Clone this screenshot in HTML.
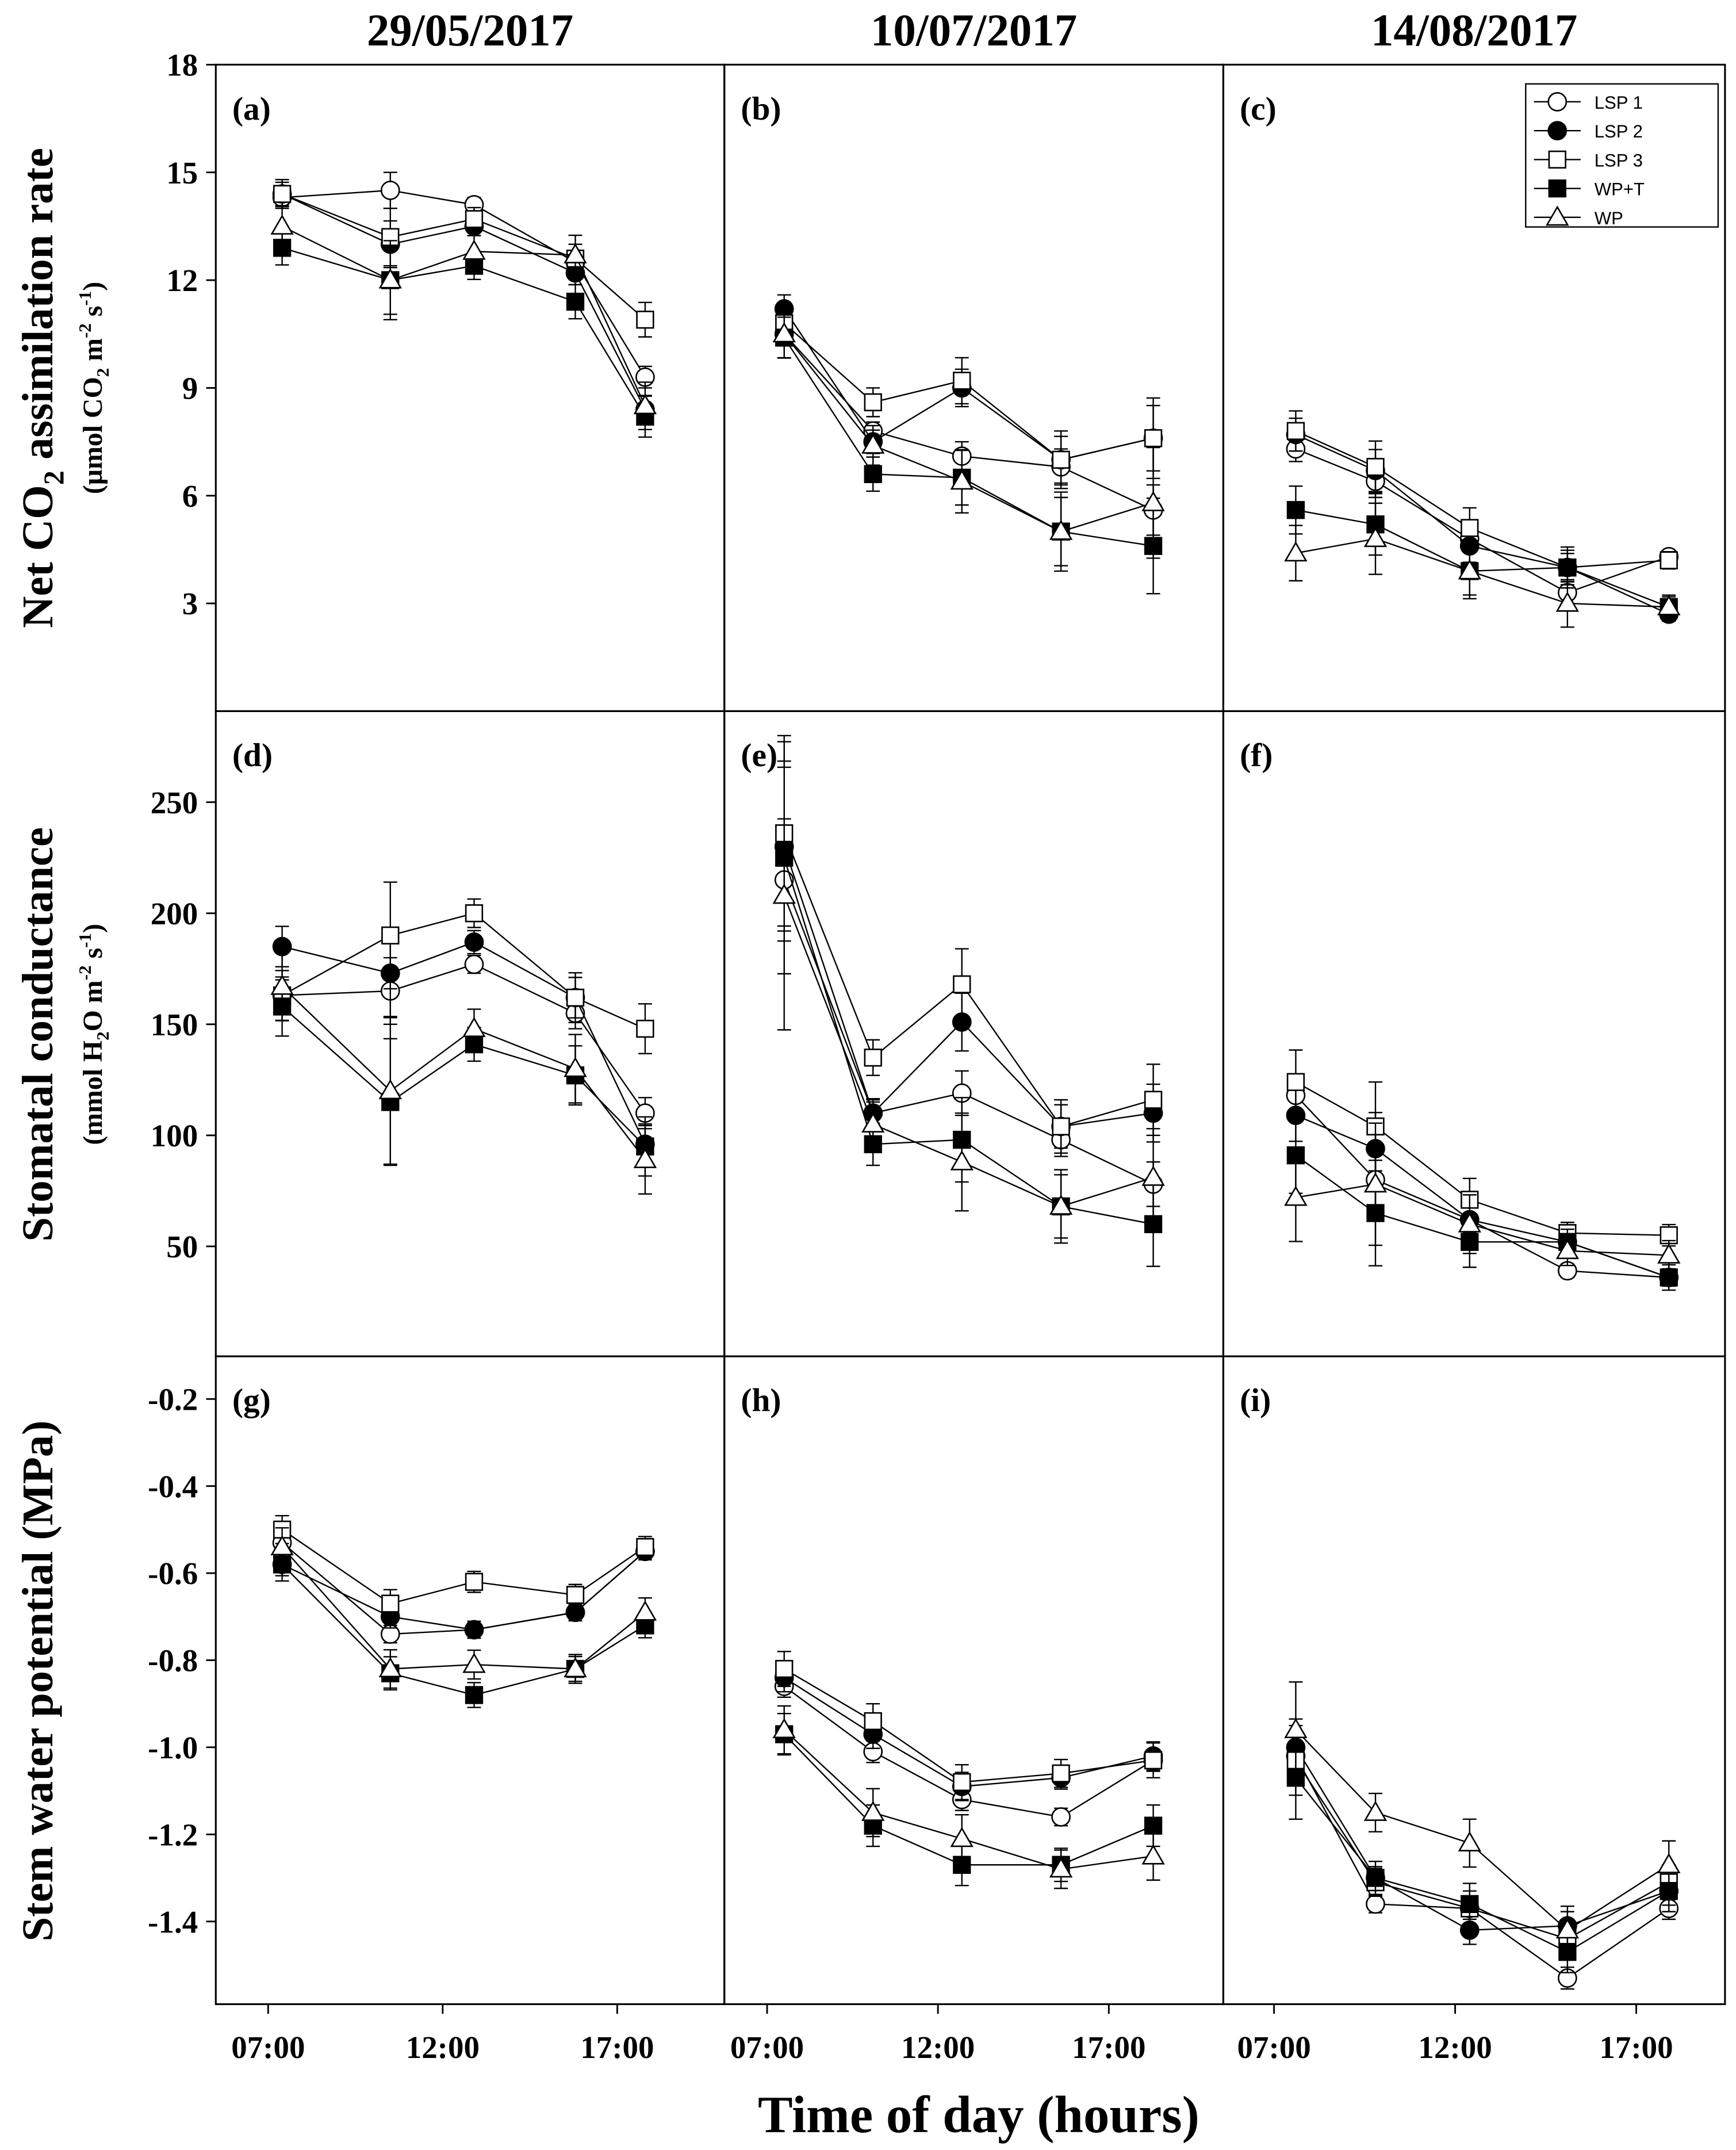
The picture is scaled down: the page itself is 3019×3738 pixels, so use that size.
<!DOCTYPE html>
<html><head><meta charset="utf-8"><style>html,body{margin:0;padding:0;background:#fff}svg{display:block}</style></head>
<body>
<svg id="chart" width="3019" height="3738" viewBox="0 0 1263 1563" preserveAspectRatio="none" xmlns="http://www.w3.org/2000/svg" font-family="Liberation Serif, serif"></svg>
<script>
const dates = ["29/05/2017","10/07/2017","14/08/2017"];
const seriesNames = ["LSP 1","LSP 2","LSP 3","WP+T","WP"];
const panelLabels = ["(a)","(b)","(c)","(d)","(e)","(f)","(g)","(h)","(i)"];
const timesCol1 = [7.4,10.5,12.9,15.8,17.8];
const timesCol2 = [7.5,10.1,12.7,15.6,18.3];
const timesCol3 = [7.6,9.8,12.4,15.1,17.9];
const yTicksA = [3,6,9,12,15,18];
const yTicksG = [50,100,150,200,250];
const yTicksW = [-1.4,-1.2,-1.0,-0.8,-0.6,-0.4,-0.2];
const xTicks = [7,12,17];
const xTickLabels = ["07:00","12:00","17:00"];
const dataA = [[14.3,14.5,14.1,12.5,9.3],[14.4,13.0,13.5,12.2,8.4],[14.4,13.2,13.7,12.6,10.9],[12.9,12.0,12.4,11.4,8.2],[13.5,12.0,12.8,12.7,8.5]];
const dataB = [[10.5,7.8,7.1,6.8,5.6],[11.2,7.5,9.0,7.0,7.6],[10.8,8.6,9.2,7.0,7.6],[10.4,6.6,6.5,5.0,4.6],[10.5,7.4,6.4,5.0,5.8]];
const dataC = [[7.3,6.4,4.8,3.3,4.3],[7.7,6.7,4.6,4.0,2.7],[7.8,6.8,5.1,4.0,4.2],[5.6,5.2,3.9,4.0,2.9],[4.4,4.8,3.9,3.0,2.9]];
const dataD = [[163,165,177,155,110],[185,173,187,162,96],[163,190,200,162,148],[158,115,141,127,95],[167,120,148,130,89]];
const dataE = [[215,110,119,98,78],[230,110,151,104,110],[236,135,168,104,116],[225,96,98,68,60],[208,105,88,68,81]];
const dataF = [[118,80,62,39,36],[109,94,62,52,36],[124,104,71,56,55],[91,65,52,52,36],[72,78,60,48,46]];
const dataG = [[-0.53,-0.74,-0.73,-0.69,-0.55],[-0.58,-0.70,-0.73,-0.69,-0.55],[-0.50,-0.67,-0.62,-0.65,-0.54],[-0.58,-0.83,-0.88,-0.82,-0.72],[-0.54,-0.82,-0.81,-0.82,-0.69]];
const dataH = [[-0.86,-1.01,-1.12,-1.16,-1.03],[-0.84,-0.97,-1.09,-1.07,-1.02],[-0.82,-0.94,-1.08,-1.06,-1.03],[-0.97,-1.18,-1.27,-1.27,-1.18],[-0.96,-1.15,-1.21,-1.28,-1.25]];
const dataI = [[-1.02,-1.36,-1.37,-1.53,-1.37],[-1.00,-1.30,-1.42,-1.41,-1.33],[-1.03,-1.31,-1.37,-1.44,-1.31],[-1.07,-1.30,-1.36,-1.47,-1.33],[-0.96,-1.15,-1.22,-1.42,-1.27]];
const errA = [0.5,1.0,0.4,0.5,0.6], errB = [0.6,0.5,0.8,1.0,1.4], errC = [0.7,0.9,0.7,0.6,0.3];
const errD = [14,30,8,14,14], errE = [55,10,20,15,20], errF = [18,25,12,6,6];
const errG = [0.04,0.04,0.03,0.03,0.03], errH = [0.05,0.05,0.05,0.04,0.05], errI = [0.1,0.04,0.05,0.05,0.05];

const NS="http://www.w3.org/2000/svg", svg=document.getElementById('chart');
function el(t,a,p){const e=document.createElementNS(NS,t);for(const k in a)e.setAttribute(k,a[k]);(p||svg).appendChild(e);return e;}
const colX=[[157,527],[527,890],[890,1255]];
const rowY=[[47,517],[517,986],[986,1457]];
const xDom=[[5.5,20.07],[5.75,20.35],[5.6,19.45]];
const yDom=[[0,18],[0.5,291],[-1.59,-0.102]];
const allData=[[dataA,dataB,dataC],[dataD,dataE,dataF],[dataG,dataH,dataI]];
const allErr=[[errA,errB,errC],[errD,errE,errF],[errG,errH,errI]];
const times=[timesCol1,timesCol2,timesCol3];
const yTicks=[yTicksA,yTicksG,yTicksW];
const yFmt=[v=>String(v),v=>String(v),v=>v.toFixed(1)];
function sx(c,v){const d=xDom[c];return colX[c][0]+(v-d[0])/(d[1]-d[0])*(colX[c][1]-colX[c][0]);}
function sy(r,v){const d=yDom[r];return rowY[r][1]-(v-d[0])/(d[1]-d[0])*(rowY[r][1]-rowY[r][0]);}
function marker(g,i,x,y){
  const fill=(i===1||i===3)?'#000':'#fff';
  if(i<=1) return el('circle',{cx:x,cy:y,r:6.5,fill:fill,stroke:'#000','stroke-width':1.1},g);
  if(i<=3) return el('rect',{x:x-6,y:y-6,width:12,height:12,fill:fill,stroke:'#000','stroke-width':1.1},g);
  return el('polygon',{points:`${x},${y-7.5} ${x-7.5},${y+5.5} ${x+7.5},${y+5.5}`,fill:fill,stroke:'#000','stroke-width':1.1},g);
}
dates.forEach((d,c)=>{const t=el('text',{x:(colX[c][0]+colX[c][1])/2,y:33,'text-anchor':'middle','font-size':33,'font-weight':'bold'});t.textContent=d;

});
for(let r=0;r<3;r++)for(let c=0;c<3;c++){
  const g=el('g',{});
  
  
  el('rect',{x:colX[c][0],y:rowY[r][0],width:colX[c][1]-colX[c][0],height:rowY[r][1]-rowY[r][0],fill:'none',stroke:'#000','stroke-width':1.3},g);
  const lb=el('text',{x:colX[c][0]+12,y:rowY[r][0]+40,'font-size':24,'font-weight':'bold'},g);lb.textContent=panelLabels[r*3+c];
  const data=allData[r][c],err=allErr[r][c],tm=times[c];
  data.forEach((s,i)=>{
    const sg=el('g',{},g);
    
    
    el('polyline',{points:s.map((v,k)=>sx(c,tm[k])+','+sy(r,v)).join(' '),fill:'none',stroke:'#000','stroke-width':1},sg);
    s.forEach((v,k)=>{const x=sx(c,tm[k]),e=err[k]*(0.5+0.15*i);
      el('line',{x1:x,x2:x,y1:sy(r,v-e),y2:sy(r,v+e),stroke:'#000','stroke-width':1},sg);
      el('line',{x1:x-5,x2:x+5,y1:sy(r,v+e),y2:sy(r,v+e),stroke:'#000','stroke-width':1},sg);
      el('line',{x1:x-5,x2:x+5,y1:sy(r,v-e),y2:sy(r,v-e),stroke:'#000','stroke-width':1},sg);});
    s.forEach((v,k)=>marker(sg,i,sx(c,tm[k]),sy(r,v)));
  });
  if(c===0) yTicks[r].forEach(v=>{const y=sy(r,v);el('line',{x1:150,x2:157,y1:y,y2:y,stroke:'#000','stroke-width':1.2});
    const t=el('text',{x:144,y:y+8,'text-anchor':'end','font-size':23,'font-weight':'bold'});t.textContent=yFmt[r](v);});
  if(r===2) xTicks.forEach((v,k)=>{const x=sx(c,v);el('line',{x1:x,x2:x,y1:1457,y2:1464,stroke:'#000','stroke-width':1.2});
    const t=el('text',{x:x,y:1496,'text-anchor':'middle','font-size':23,'font-weight':'bold'});t.textContent=xTickLabels[k];});
}
const lg=el('g',{});


el('rect',{x:1110,y:61,width:140,height:104,fill:'#fff',stroke:'#000','stroke-width':1},lg);
seriesNames.forEach((n,i)=>{const y=74+i*21;
  el('line',{x1:1116,x2:1150,y1:y,y2:y,stroke:'#000','stroke-width':1},lg);
  marker(lg,i,1133,y);
  const t=el('text',{x:1160,y:y+5,'font-size':13,'font-family':'Liberation Sans, sans-serif'},lg);t.textContent=n;
  
  });
function rot(x,y,html,size,name){const t=el('text',{x:0,y:0,transform:`translate(${x},${y}) rotate(-90)`,'text-anchor':'middle','font-size':size,'font-weight':'bold'});t.innerHTML=html;

}
rot(38,282,'Net CO<tspan dy="8" font-size="21">2</tspan><tspan dy="-8"> assimilation rate</tspan>',32,'y-axis-title-assimilation');
rot(74,282,'(μmol CO<tspan dy="5" font-size="13">2</tspan><tspan dy="-5"> m</tspan><tspan dy="-8" font-size="13">-2</tspan><tspan dy="8"> s</tspan><tspan dy="-8" font-size="13">-1</tspan><tspan dy="8">)</tspan>',20,'y-axis-units-assimilation');
rot(38,752,'Stomatal conductance',32,'y-axis-title-conductance');
rot(74,752,'(mmol H<tspan dy="5" font-size="13">2</tspan><tspan dy="-5">O m</tspan><tspan dy="-8" font-size="13">-2</tspan><tspan dy="8"> s</tspan><tspan dy="-8" font-size="13">-1</tspan><tspan dy="8">)</tspan>',20,'y-axis-units-conductance');
rot(38,1222,'Stem water potential (MPa)',32,'y-axis-title-water-potential');
const xt=el('text',{x:712,y:1550,'text-anchor':'middle','font-size':38,'font-weight':'bold'});xt.textContent='Time of day (hours)';


</script>
</body></html>
